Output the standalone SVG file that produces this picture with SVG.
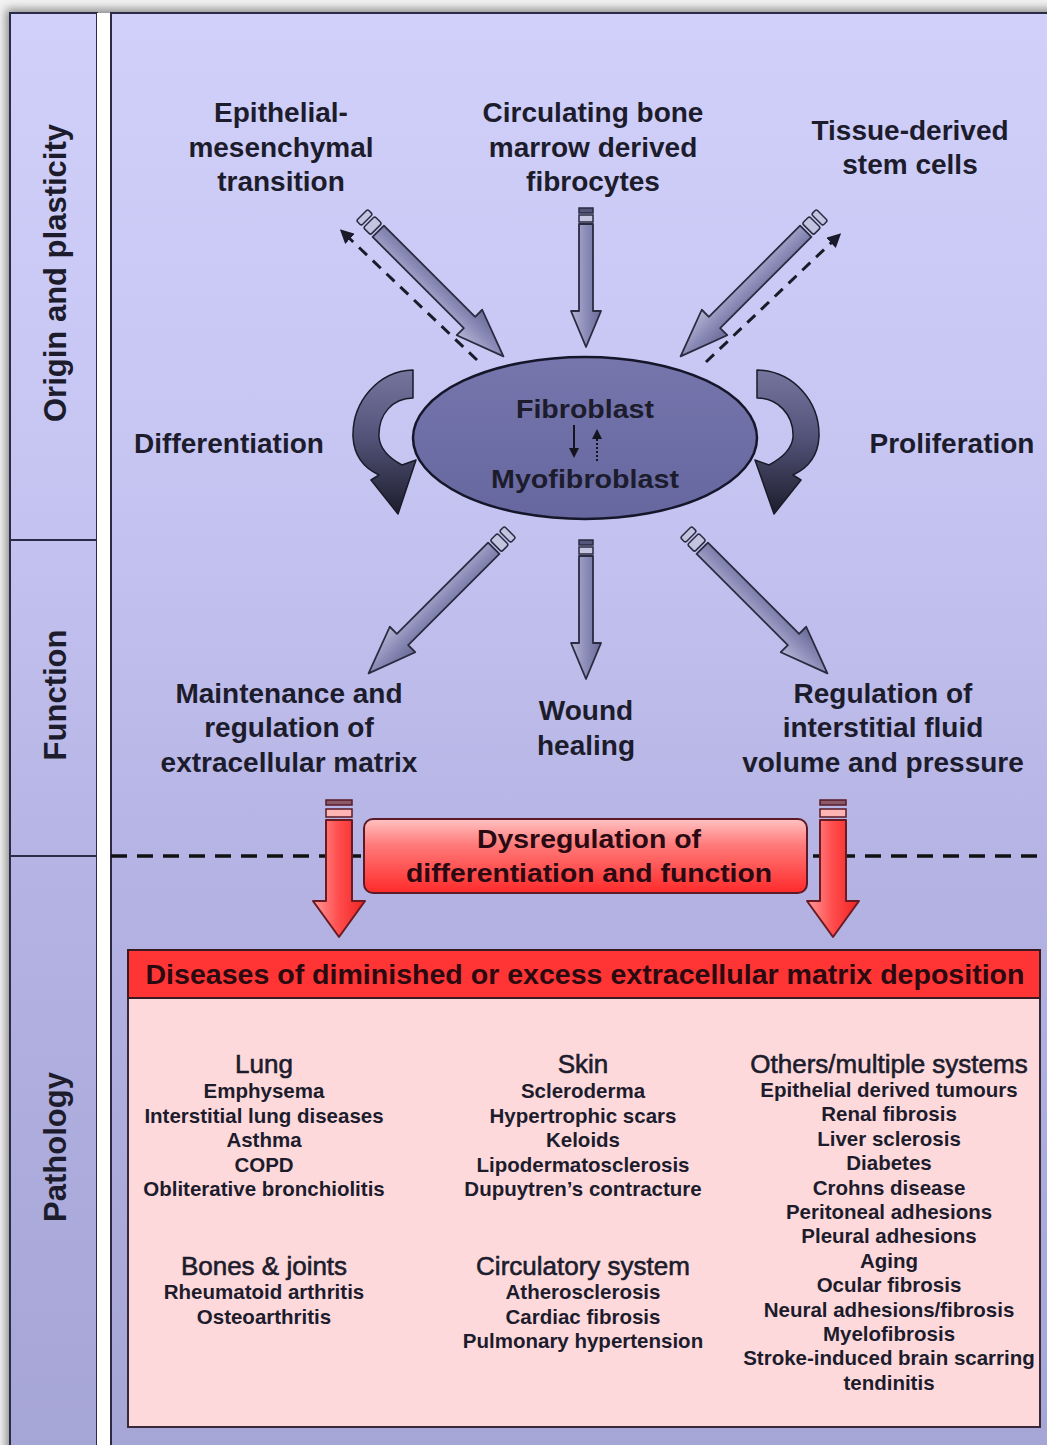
<svg xmlns="http://www.w3.org/2000/svg" width="1047" height="1445" viewBox="0 0 1047 1445">
<defs>
<style>
.t{font-family:"Liberation Sans",Arial,sans-serif;fill:#1c1c2c;text-anchor:middle}
.lb{font-size:28px;font-weight:bold}
.side{font-size:31px;font-weight:bold}
.hd{font-size:26px;font-weight:normal;stroke:#1c1c2c;stroke-width:0.6}
.it{font-size:20.5px;font-weight:bold}
.frame{stroke:#2b2b48;stroke-width:2}
.dash{stroke:#1a1a2a;stroke-width:3;stroke-dasharray:11 8;fill:none}
.ptail1{fill:#55557a;stroke:#2a2a40;stroke-width:1.5}
.ptail2{fill:#c4c4e0;stroke:#2a2a40;stroke-width:1.5}
.pbody{fill:url(#pg);stroke:#2a2a40;stroke-width:1.8;stroke-linejoin:round}
.rtail1{fill:#8a5a68;stroke:#5a1a28;stroke-width:1.5}
.rtail2{fill:#ffb4b4;stroke:#5a1a28;stroke-width:1.5}
.rbody{fill:url(#rg);stroke:#6a1a22;stroke-width:2;stroke-linejoin:round}
.curve{fill:url(#cg);stroke:#1a1a28;stroke-width:1.5;stroke-linejoin:round}
</style>
<linearGradient id="bg" x1="0" y1="13" x2="0" y2="1445" gradientUnits="userSpaceOnUse">
<stop offset="0" stop-color="#d1d0fa"/>
<stop offset="0.3" stop-color="#c7c6f3"/>
<stop offset="0.6" stop-color="#b4b3e3"/>
<stop offset="1" stop-color="#a5a5d6"/>
</linearGradient>
<linearGradient id="pg" x1="0" y1="0" x2="1" y2="0">
<stop offset="0" stop-color="#b4b4d4"/>
<stop offset="0.5" stop-color="#8c8cb8"/>
<stop offset="1" stop-color="#6a6a98"/>
</linearGradient>
<linearGradient id="rg" x1="0" y1="0" x2="1" y2="0">
<stop offset="0" stop-color="#ff9a9a"/>
<stop offset="0.5" stop-color="#ff4c4c"/>
<stop offset="1" stop-color="#f02222"/>
</linearGradient>
<linearGradient id="cg" x1="0" y1="368" x2="0" y2="515" gradientUnits="userSpaceOnUse">
<stop offset="0" stop-color="#76769f"/>
<stop offset="0.45" stop-color="#55557c"/>
<stop offset="1" stop-color="#1c1c2c"/>
</linearGradient>
<linearGradient id="boxg" x1="0" y1="0" x2="0" y2="1">
<stop offset="0" stop-color="#ffc2c2"/>
<stop offset="0.35" stop-color="#ff7a7a"/>
<stop offset="1" stop-color="#ff2a2a"/>
</linearGradient>
<linearGradient id="ellg" x1="0" y1="0" x2="0" y2="1">
<stop offset="0" stop-color="#7676ad"/>
<stop offset="1" stop-color="#6767a0"/>
</linearGradient>
<filter id="sh" x="-5%" y="-5%" width="110%" height="110%"><feGaussianBlur stdDeviation="5"/></filter>
<marker id="mh" viewBox="0 0 10 10" refX="2" refY="5" markerWidth="14" markerHeight="14" markerUnits="userSpaceOnUse" orient="auto"><path d="M0,0 L10,5 L0,10 Z" fill="#1a1a2a"/></marker>
<marker id="ms" viewBox="0 0 10 10" refX="1" refY="5" markerWidth="10" markerHeight="10" markerUnits="userSpaceOnUse" orient="auto"><path d="M0,0 L10,5 L0,10 Z" fill="#14141f"/></marker>
<g id="pv">
<rect x="-7" y="0" width="14" height="5" class="ptail1"/>
<rect x="-7" y="7" width="14" height="7" class="ptail2"/>
<path d="M-7,16 L7,16 L7,103 L15,103 L0,139 L-15,103 L-7,103 Z" class="pbody"/>
</g>
<g id="pd">
<rect x="-8" y="0" width="16" height="7" rx="2" class="ptail2"/>
<rect x="-8" y="10" width="16" height="10" rx="2" class="ptail2"/>
<path d="M-8,23 L8,23 L8,152 L18,152 L0,200 L-18,152 L-8,152 Z" class="pbody"/>
</g>
<g id="ra">
<rect x="-13" y="0" width="26" height="5" class="rtail1"/>
<rect x="-13" y="9" width="26" height="8" class="rtail2"/>
<path d="M-13,20 L13,20 L13,101 L26,101 L0,137 L-26,101 L-13,101 Z" class="rbody"/>
</g>
</defs>

<rect x="0" y="0" width="1047" height="1445" fill="#f2f2f2"/>
<rect x="6" y="9" width="1060" height="1460" fill="#8a8a8a" filter="url(#sh)"/>

<g id="frame">
<rect x="10" y="13" width="87" height="1440" fill="url(#bg)" class="frame"/>
<rect x="97" y="13" width="14" height="1440" fill="#ffffff"/>
<rect x="111" y="13" width="945" height="1440" fill="url(#bg)" class="frame"/>
<line x1="10" y1="540" x2="97" y2="540" class="frame"/>
<line x1="10" y1="856" x2="97" y2="856" class="frame"/>
<line x1="111" y1="856" x2="1047" y2="856" stroke="#111" stroke-width="3.5" stroke-dasharray="16 10"/>
</g>

<g id="section-origin"><text class="t side" transform="translate(66,273) rotate(-90)">Origin and plasticity</text></g>
<g id="section-function"><text class="t side" transform="translate(66,695) rotate(-90)">Function</text></g>
<g id="section-pathology"><text class="t side" transform="translate(66,1147) rotate(-90)">Pathology</text></g>

<g id="connectors">
<line x1="477" y1="360" x2="348" y2="237" class="dash" marker-end="url(#mh)"/>
<line x1="706" y1="362" x2="833" y2="241" class="dash" marker-end="url(#mh)"/>
<use href="#pd" transform="translate(362,215) rotate(-45)"/>
<use href="#pv" transform="translate(586,208)"/>
<use href="#pd" transform="translate(822,215) rotate(45)"/>
<use href="#pd" transform="translate(510,532) rotate(45)"/>
<use href="#pv" transform="translate(586,540)"/>
<use href="#pd" transform="translate(686,532) rotate(-45)"/>
<path class="curve" d="M413,370 C378,371 352,402 353,437 C354,455 364,468 379,475 L371,480 L398,514 L416,460 L402,465 C389,458 380,449 379,437 C378,414 393,398 413,398 Z"/>
<path class="curve" d="M757,370 C794,371 820,402 819,437 C818,455 808,468 793,475 L801,480 L774,514 L755,460 L769,465 C782,458 792,449 793,437 C794,414 777,398 757,398 Z"/>
<use href="#ra" transform="translate(339,800)"/>
<use href="#ra" transform="translate(833,800)"/>
</g>

<g id="node-emt">
<text class="t lb" x="281" y="122">Epithelial-</text>
<text class="t lb" x="281" y="157">mesenchymal</text>
<text class="t lb" x="281" y="191">transition</text>
</g>
<g id="node-fibrocytes">
<text class="t lb" x="593" y="122">Circulating bone</text>
<text class="t lb" x="593" y="157">marrow derived</text>
<text class="t lb" x="593" y="191">fibrocytes</text>
</g>
<g id="node-stem">
<text class="t lb" x="910" y="140">Tissue-derived</text>
<text class="t lb" x="910" y="174">stem cells</text>
</g>
<g id="node-differentiation"><text class="t lb" x="229" y="453">Differentiation</text></g>
<g id="node-proliferation"><text class="t lb" x="952" y="453">Proliferation</text></g>

<g id="node-fibroblast">
<ellipse cx="585" cy="438" rx="172" ry="81" fill="url(#ellg)" stroke="#16162a" stroke-width="2.5"/>
<text class="t lb" x="585" y="418" textLength="138" lengthAdjust="spacingAndGlyphs" style="font-size:26px">Fibroblast</text>
<text class="t lb" x="585" y="488" textLength="188" lengthAdjust="spacingAndGlyphs" style="font-size:26px">Myofibroblast</text>
<line x1="574" y1="425" x2="574" y2="449" stroke="#14141f" stroke-width="2" marker-end="url(#ms)"/>
<line x1="597" y1="461" x2="597" y2="438" stroke="#14141f" stroke-width="2" stroke-dasharray="2 2" marker-end="url(#ms)"/>
</g>

<g id="node-ecm">
<text class="t lb" x="289" y="703">Maintenance and</text>
<text class="t lb" x="289" y="737">regulation of</text>
<text class="t lb" x="289" y="772">extracellular matrix</text>
</g>
<g id="node-wound">
<text class="t lb" x="586" y="720">Wound</text>
<text class="t lb" x="586" y="755">healing</text>
</g>
<g id="node-fluid">
<text class="t lb" x="883" y="703">Regulation of</text>
<text class="t lb" x="883" y="737">interstitial fluid</text>
<text class="t lb" x="883" y="772">volume and pressure</text>
</g>

<g id="node-dysregulation">
<rect x="364" y="819" width="443" height="74" rx="9" fill="url(#boxg)" stroke="#5a1a28" stroke-width="2"/>
<text class="t" x="589" y="848" textLength="224" lengthAdjust="spacingAndGlyphs" style="font-size:25px;font-weight:bold;fill:#2a0a12">Dysregulation of</text>
<text class="t" x="589" y="882" textLength="366" lengthAdjust="spacingAndGlyphs" style="font-size:25px;font-weight:bold;fill:#2a0a12">differentiation and function</text>
</g>

<g id="node-diseases">
<rect x="128" y="950" width="912" height="477" fill="#fdd9dc" stroke="#3a2838" stroke-width="2"/>
<rect x="128" y="950" width="912" height="48" fill="#ff3535" stroke="#3a1a22" stroke-width="2"/>
<text class="t" x="585" y="984" textLength="879" lengthAdjust="spacingAndGlyphs" style="font-size:28px;font-weight:bold;fill:#2a0a10">Diseases of diminished or excess extracellular matrix deposition</text>
<g id="lung">
<text class="t hd" x="264" y="1073">Lung</text>
<text class="t it" x="264" y="1098">Emphysema</text>
<text class="t it" x="264" y="1122.5">Interstitial lung diseases</text>
<text class="t it" x="264" y="1147">Asthma</text>
<text class="t it" x="264" y="1171.5">COPD</text>
<text class="t it" x="264" y="1196">Obliterative bronchiolitis</text>
</g>
<g id="bones">
<text class="t hd" x="264" y="1275">Bones &amp; joints</text>
<text class="t it" x="264" y="1299">Rheumatoid arthritis</text>
<text class="t it" x="264" y="1324">Osteoarthritis</text>
</g>
<g id="skin">
<text class="t hd" x="583" y="1073">Skin</text>
<text class="t it" x="583" y="1098">Scleroderma</text>
<text class="t it" x="583" y="1122.5">Hypertrophic scars</text>
<text class="t it" x="583" y="1147">Keloids</text>
<text class="t it" x="583" y="1171.5">Lipodermatosclerosis</text>
<text class="t it" x="583" y="1196">Dupuytren’s contracture</text>
</g>
<g id="circulatory">
<text class="t hd" x="583" y="1275">Circulatory system</text>
<text class="t it" x="583" y="1299">Atherosclerosis</text>
<text class="t it" x="583" y="1324">Cardiac fibrosis</text>
<text class="t it" x="583" y="1348">Pulmonary hypertension</text>
</g>
<g id="others">
<text class="t hd" x="889" y="1073">Others/multiple systems</text>
<text class="t it" x="889" y="1097">Epithelial derived tumours</text>
<text class="t it" x="889" y="1121.4">Renal fibrosis</text>
<text class="t it" x="889" y="1145.8">Liver sclerosis</text>
<text class="t it" x="889" y="1170.2">Diabetes</text>
<text class="t it" x="889" y="1194.6">Crohns disease</text>
<text class="t it" x="889" y="1219">Peritoneal adhesions</text>
<text class="t it" x="889" y="1243.4">Pleural adhesions</text>
<text class="t it" x="889" y="1267.8">Aging</text>
<text class="t it" x="889" y="1292.2">Ocular fibrosis</text>
<text class="t it" x="889" y="1316.6">Neural adhesions/fibrosis</text>
<text class="t it" x="889" y="1341">Myelofibrosis</text>
<text class="t it" x="889" y="1365.4">Stroke-induced brain scarring</text>
<text class="t it" x="889" y="1389.8">tendinitis</text>
</g>
</g>
</svg>
